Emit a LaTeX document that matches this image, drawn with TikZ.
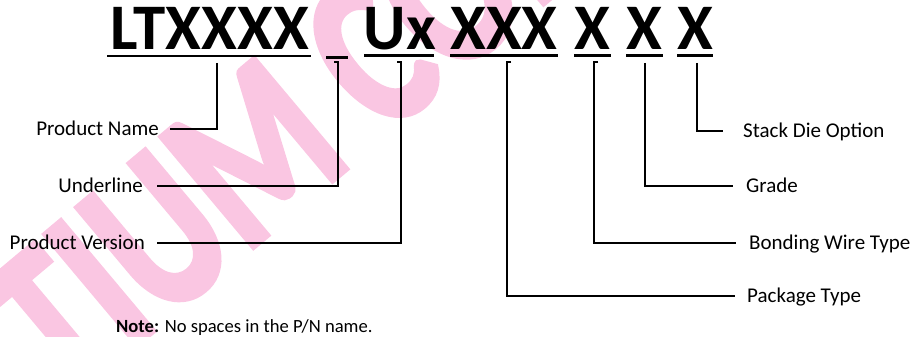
\documentclass[tikz,border=0pt]{standalone}
\usepackage{graphicx}
\usepackage{fontspec}
\setmainfont{Carlito}
\newfontfamily\wmfont[FakeBold=3]{Carlito Bold}
\usetikzlibrary{positioning}

\definecolor{wmpink}{RGB}{250,198,226}

\begin{document}
\begin{tikzpicture}[x=1pt, y=-1pt,
    title/.style = {anchor=base, inner sep=0pt, font=\fontsize{65}{65}\bfseries},
    uline/.style = {line width=2.6pt},
    conn/.style  = {line width=1.4pt, line join=miter},
    lbl/.style   = {inner ysep=0pt, inner xsep=12pt, text height=13.5pt, text depth=0pt,
                    font=\fontsize{21}{21}\selectfont},
    lbl-l/.style = {lbl, anchor=east},
    lbl-r/.style = {lbl, anchor=west},
    wmark/.style = {rotate=40, inner sep=0pt, text=wmpink,
                    font=\fontsize{220}{220}\wmfont}]

    \useasboundingbox (0,0) rectangle (914,337);
    \clip (0,0) rectangle (914,337);

    % watermark
    \node (wm) [wmark] at (212,188) {\scalebox{0.75}[1]{\llap{LON}TIUM C\rlap{ONFIDENTIAL}}};

    % part number
    \node (g1) [title] at (210,50) {LTXXXX};
    \node (g3) [title] at (400,50) {Ux};
    \node (g4) [title] at (504,50) {XXX};
    \node (g5) [title] at (592.5,50) {X};
    \node (g6) [title] at (644.5,50) {X};
    \node (g7) [title] at (695,50) {X};

    \draw [uline] (107,56) -- (311,56);
    \draw [uline] (326,57.5) -- (348,57.5);
    \draw [uline] (364,55.5) -- (434,55.5);
    \draw [uline] (450,55.5) -- (558,55.5);
    \draw [uline] (574,55.5) -- (611,55.5);
    \draw [uline] (626,55.5) -- (663,55.5);
    \draw [uline] (677,55.5) -- (713,55.5);

    \coordinate (t1) at (217,63);
    \coordinate (t2) at (338,62);
    \coordinate (t3) at (401,62);
    \coordinate (t4) at (507,62);
    \coordinate (t5) at (594,62);
    \coordinate (t6) at (645,63);
    \coordinate (t7) at (697,63);

    % labels
    \node (pname) [lbl-l, inner xsep=11pt] at (170,129) {Product Name};
    \node (under) [lbl-l, inner xsep=14pt] at (157,186) {Underline};
    \node (pver)  [lbl-l] at (157,243) {Product Version};
    \node (stack) [lbl-r, inner xsep=20pt] at (723,131) {Stack Die Option};
    \node (grade) [lbl-r, inner xsep=13pt] at (733,186) {Grade};
    \node (wire)  [lbl-r, inner xsep=13pt] at (736,243) {Bonding Wire Type};
    \node (pkg)   [lbl-r] at (735,296) {Package Type};

    \draw [conn] (t1) |- (pname);
    \draw [conn] ([xshift=-4pt]t2) -- (t2) |- (under);
    \draw [conn] ([xshift=-4pt]t3) -- (t3) |- (pver);
    \draw [conn] ([xshift=4pt]t4) -- (t4) |- (pkg);
    \draw [conn] ([xshift=4pt]t5) -- (t5) |- (wire);
    \draw [conn] (t6) |- (grade);
    \draw [conn] (t7) |- (stack);

    \node (note) [anchor=west, inner sep=0pt, font=\fontsize{18.6}{18.6}\selectfont]
        at (116,328) {\textbf{Note:} No spaces in the P/N name.};

\end{tikzpicture}
\end{document}
